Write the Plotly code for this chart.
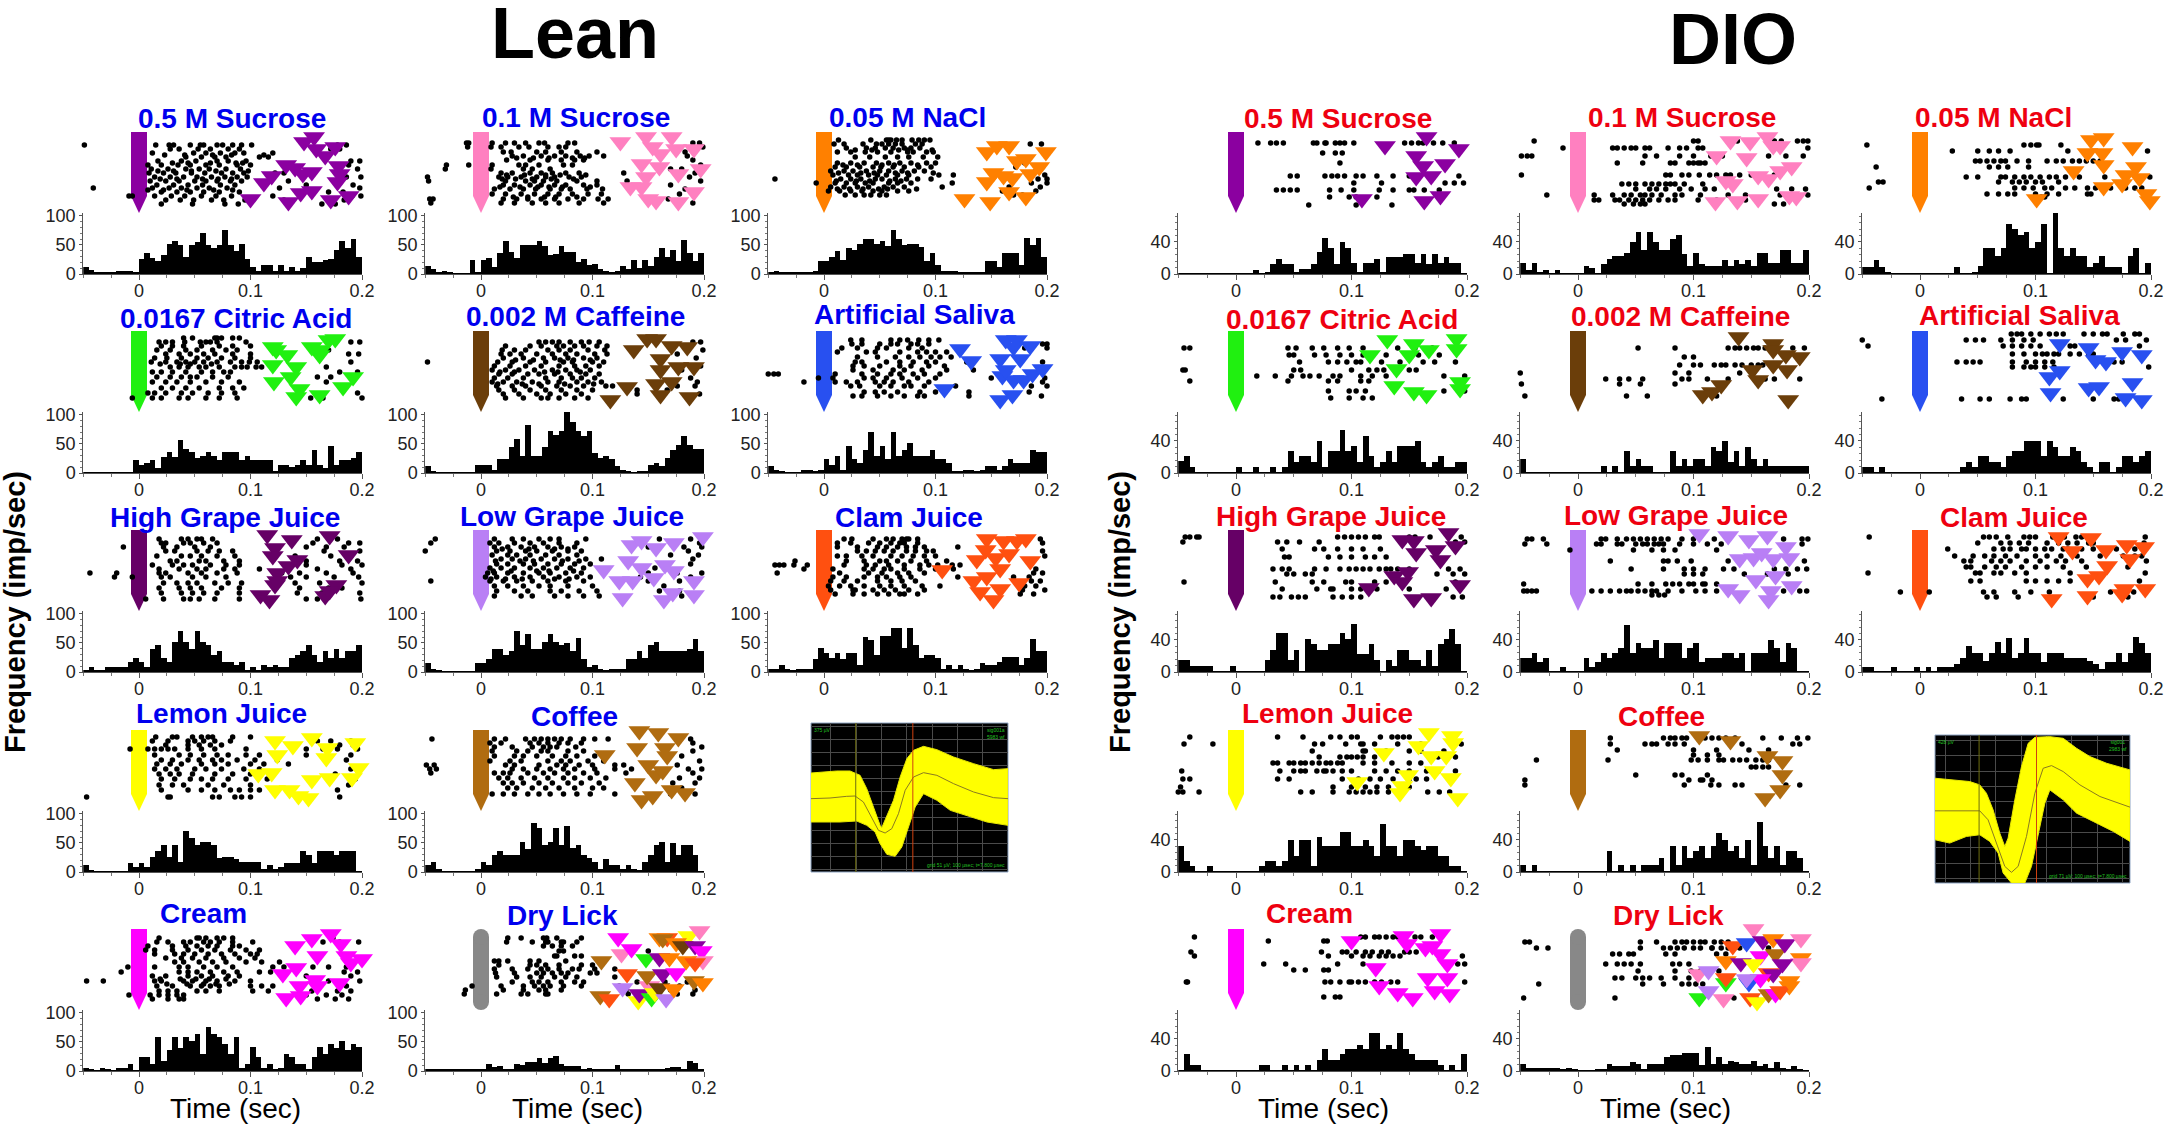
import plotly.graph_objects as go

W, H = 2167, 1127
FONT = "Liberation Sans"

# colours of the tastants
PURPLE, PINK, ORANGE = "#8B00A0", "#FF80C0", "#FF8000"
GREEN, BROWN, BLUE = "#20F010", "#6B3E0A", "#2850F0"
GRAPE, LAVENDER, CLAM = "#660066", "#B97FF5", "#FF5010"
YELLOW, COFFEE, MAGENTA, GREY = "#FFFF00", "#B06C10", "#FF00FF", "#888888"

TIME_BINS = [(-50 + 5 * i) / 1000 for i in range(50)]

# ---- Lean histograms (imp/sec)
L1_HIST = [12, 7, 3, 2, 2, 2, 5, 6, 6, 3,
           26, 36, 28, 22, 32, 52, 57, 50, 30, 50,
           55, 71, 50, 45, 50, 75, 50, 40, 52, 25,
           12, 6, 15, 15, 6, 15, 6, 12, 6, 10,
           30, 20, 20, 24, 25, 42, 56, 45, 60, 30]
L2_HIST = [14, 8, 3, 5, 3, 1, 1, 1, 24, 3,
           24, 28, 12, 37, 57, 38, 27, 50, 50, 50,
           57, 48, 33, 35, 48, 38, 38, 20, 26, 15,
           18, 8, 5, 3, 5, 14, 8, 24, 10, 24,
           14, 30, 45, 30, 42, 22, 58, 36, 22, 36]
L3_HIST = [3, 6, 3, 2, 2, 2, 2, 2, 5, 22,
           22, 30, 40, 24, 45, 42, 52, 60, 60, 52,
           56, 48, 75, 60, 50, 52, 52, 46, 22, 36,
           15, 6, 6, 6, 2, 2, 2, 2, 2, 22,
           22, 12, 36, 36, 36, 16, 62, 50, 62, 30]
L4_HIST = [1, 1, 1, 1, 1, 1, 1, 1, 1, 22,
           14, 18, 22, 8, 28, 36, 28, 57, 42, 36,
           26, 30, 36, 30, 22, 36, 36, 36, 22, 30,
           22, 22, 22, 22, 4, 14, 14, 10, 14, 22,
           14, 40, 14, 8, 46, 14, 22, 22, 26, 36]
L5_HIST = [12, 2, 1, 1, 1, 1, 1, 1, 1, 14,
           14, 14, 5, 24, 24, 44, 58, 30, 82, 30,
           30, 44, 72, 66, 72, 105, 88, 72, 64, 72,
           35, 26, 30, 24, 12, 6, 3, 1, 3, 4,
           14, 18, 12, 26, 40, 48, 64, 48, 42, 42]
L6_HIST = [12, 6, 2, 1, 1, 1, 6, 6, 2, 6,
           24, 14, 30, 6, 46, 24, 18, 40, 70, 30,
           46, 24, 70, 30, 40, 52, 30, 30, 30, 40,
           24, 24, 18, 2, 4, 6, 6, 2, 6, 12,
           12, 6, 12, 24, 18, 18, 18, 40, 36, 36]
L7_HIST = [3, 8, 3, 3, 8, 8, 8, 8, 18, 24,
           18, 8, 40, 46, 24, 18, 52, 70, 52, 40,
           70, 52, 46, 30, 36, 18, 18, 12, 18, 3,
           8, 3, 12, 8, 12, 8, 8, 24, 30, 36,
           46, 30, 18, 36, 24, 40, 24, 36, 36, 46]
L8_HIST = [16, 6, 3, 1, 1, 1, 1, 1, 1, 16,
           16, 22, 40, 40, 30, 36, 70, 46, 66, 40,
           40, 52, 66, 52, 46, 50, 36, 58, 22, 8,
           12, 6, 2, 6, 6, 6, 22, 22, 36, 24,
           46, 52, 36, 36, 36, 36, 36, 40, 56, 36]
L9_HIST = [6, 6, 12, 6, 3, 6, 6, 6, 22, 42,
           32, 24, 32, 22, 32, 32, 12, 60, 55, 30,
           62, 62, 76, 76, 42, 76, 46, 24, 30, 30,
           24, 6, 12, 6, 12, 6, 3, 6, 16, 12,
           12, 18, 26, 26, 26, 12, 24, 56, 36, 36]
L10_HIST = [12, 3, 1, 1, 1, 1, 1, 1, 16, 8,
            16, 8, 26, 36, 46, 26, 46, 18, 70, 58,
            46, 52, 52, 46, 24, 26, 26, 22, 18, 18,
            18, 18, 6, 12, 6, 8, 16, 16, 16, 36,
            30, 16, 36, 36, 36, 30, 36, 36, 36, 1]
L11_HIST = [12, 18, 6, 1, 1, 1, 1, 1, 1, 6,
            18, 12, 30, 36, 30, 30, 30, 52, 40, 85,
            76, 46, 52, 75, 46, 80, 42, 46, 30, 24,
            18, 6, 22, 12, 12, 6, 12, 6, 2, 18,
            30, 46, 52, 18, 50, 30, 46, 46, 30, 1]
L12_HIST = [6, 3, 1, 6, 3, 1, 6, 6, 12, 1,
            24, 24, 12, 58, 18, 36, 58, 40, 58, 52,
            64, 30, 75, 64, 58, 46, 30, 58, 6, 12,
            42, 24, 6, 12, 4, 6, 30, 24, 12, 12,
            3, 24, 42, 30, 46, 40, 52, 36, 46, 42]
L13_HIST = [2, 2, 2, 2, 2, 2, 3, 4, 2, 2,
            2, 12, 7, 9, 4, 2, 12, 10, 16, 16,
            22, 14, 22, 26, 12, 8, 9, 9, 4, 5,
            4, 3, 3, 3, 11, 3, 3, 3, 3, 2,
            2, 2, 2, 6, 7, 7, 3, 17, 14, 2]

# ---- DIO histograms (imp/sec)
D1_HIST = [1, 1, 1, 1, 1, 1, 1, 1, 1, 1,
           1, 1, 1, 5, 1, 3, 13, 19, 13, 13,
           2, 6, 6, 13, 28, 45, 32, 12, 40, 32,
           14, 2, 14, 14, 19, 3, 21, 21, 21, 25,
           25, 14, 25, 12, 25, 14, 21, 14, 14, 1]
D2_HIST = [14, 5, 14, 3, 5, 1, 5, 1, 1, 1,
           1, 10, 7, 1, 12, 19, 22, 22, 26, 40,
           52, 30, 52, 40, 30, 30, 44, 48, 25, 10,
           26, 12, 10, 10, 10, 17, 10, 17, 12, 17,
           10, 26, 26, 14, 14, 30, 30, 14, 14, 30]
D3_HIST = [9, 9, 17, 9, 3, 1, 1, 1, 1, 1,
           1, 1, 1, 1, 1, 1, 9, 1, 1, 2,
           10, 32, 32, 22, 32, 62, 56, 48, 52, 32,
           40, 62, 1, 76, 32, 22, 32, 22, 22, 9,
           14, 22, 9, 9, 9, 1, 22, 32, 1, 14]
D4_HIST = [15, 21, 7, 1, 1, 1, 1, 1, 1, 1,
           7, 1, 1, 7, 1, 1, 7, 1, 7, 27,
           14, 21, 21, 14, 40, 7, 28, 28, 54, 28,
           34, 14, 46, 21, 8, 14, 28, 14, 34, 34,
           34, 40, 14, 7, 14, 21, 7, 7, 14, 14]
D5_HIST = [18, 1, 1, 1, 1, 1, 1, 1, 1, 1,
           1, 1, 1, 1, 9, 1, 9, 1, 27, 9,
           18, 9, 9, 1, 1, 1, 27, 9, 18, 9,
           18, 18, 9, 32, 27, 40, 14, 27, 9, 32,
           18, 9, 18, 9, 9, 9, 9, 9, 9, 9]
D6_HIST = [7, 7, 1, 7, 1, 1, 1, 1, 1, 1,
           1, 1, 1, 1, 1, 1, 1, 7, 14, 7,
           21, 21, 14, 14, 7, 21, 28, 28, 40, 40,
           40, 21, 40, 32, 21, 21, 32, 28, 14, 7,
           1, 14, 14, 1, 7, 21, 21, 14, 21, 27]
D7_HIST = [15, 15, 8, 8, 8, 8, 1, 1, 1, 8,
           1, 1, 1, 1, 1, 15, 28, 48, 48, 15,
           28, 1, 41, 35, 28, 28, 35, 35, 48, 41,
           60, 22, 22, 35, 15, 1, 15, 8, 28, 28,
           15, 15, 8, 28, 8, 35, 41, 54, 35, 1]
D8_HIST = [18, 18, 24, 12, 18, 1, 1, 6, 1, 1,
           1, 18, 6, 12, 24, 18, 24, 30, 58, 24,
           36, 30, 30, 40, 18, 36, 36, 36, 18, 30,
           36, 12, 18, 18, 18, 24, 24, 18, 24, 1,
           24, 24, 24, 40, 30, 12, 36, 30, 1, 1]
D9_HIST = [6, 6, 1, 1, 1, 6, 1, 1, 1, 6,
           1, 6, 1, 6, 6, 6, 10, 18, 32, 24,
           24, 14, 24, 38, 24, 42, 18, 24, 42, 24,
           24, 12, 24, 24, 24, 18, 18, 18, 18, 14,
           10, 4, 12, 12, 24, 12, 24, 44, 36, 24]
D10_HIST = [32, 14, 7, 1, 1, 7, 1, 1, 1, 1,
            1, 1, 1, 1, 7, 14, 14, 7, 14, 40,
            20, 40, 40, 7, 44, 33, 33, 33, 50, 50,
            33, 33, 40, 33, 20, 60, 33, 33, 20, 40,
            40, 33, 27, 33, 33, 20, 20, 7, 7, 1]
D11_HIST = [9, 1, 9, 1, 1, 1, 1, 1, 1, 1,
            1, 1, 1, 1, 1, 26, 1, 9, 1, 9,
            1, 9, 9, 9, 18, 1, 33, 9, 33, 18,
            26, 33, 18, 33, 48, 40, 26, 33, 18, 40,
            9, 62, 33, 18, 33, 9, 26, 26, 18, 1]
D12_HIST = [1, 21, 7, 7, 1, 1, 1, 1, 1, 1,
            1, 1, 1, 1, 7, 7, 1, 1, 7, 1,
            7, 1, 7, 1, 14, 27, 14, 14, 21, 27,
            27, 33, 27, 47, 47, 27, 33, 27, 47, 27,
            21, 14, 14, 14, 14, 7, 1, 7, 1, 21]
D13_HIST = [9, 4, 4, 4, 4, 4, 4, 2, 4, 2,
            1, 1, 1, 2, 3, 9, 6, 6, 6, 11,
            9, 3, 9, 9, 9, 17, 20, 20, 22, 22,
            22, 8, 30, 9, 17, 9, 12, 11, 9, 9,
            12, 6, 9, 4, 11, 4, 2, 6, 2, 1]

# ---- rasters: one (row, spike times in ms) entry per trial
L1_DOTS = [(68, [-49, 15, 27, 31, 46, 55, 58, 70, 75, 84, 92, 101, 178, 186]),
           (64, [28, 36, 53, 64, 80, 90, 172, 180]),
           (60, [12, 49, 60, 73, 86, 94, 120]),
           (58, [23, 41, 66, 83, 112]),
           (56, [42, 56, 68, 78, 108, 116]),
           (52, [17, 38, 51, 70, 80, 96, 190, 198]),
           (50, [30, 44, 64, 87, 93]),
           (48, [8, 20, 35, 46, 60, 72, 88, 100, 188]),
           (44, [11, 26, 42, 54, 63, 78, 91, 178, 196]),
           (42, [17, 31, 47, 69, 98]),
           (40, [9, 22, 33, 47, 59, 74, 84, 94, 122, 130]),
           (36, [14, 28, 40, 52, 65, 77, 88, 97, 186, 199]),
           (34, [19, 34, 57, 71, 83]),
           (32, [10, 24, 36, 50, 60, 70, 82, 92, 134, 176]),
           (28, [16, 31, 44, 57, 73, 86, 150, 192]),
           (25, [-41, 12, 27, 38, 52, 63, 79, 126, 198]),
           (23, [8, 22, 43, 67, 84]),
           (21, [20, 34, 46, 58, 72, 90, 170, 183]),
           (17, [-9, -6, 14, 29, 41, 56, 69, 83, 120, 191, 199]),
           (13, [24, 37, 49, 65, 76, 95, 130, 184]),
           (9, [20, 48, 77, 89, 164, 176])]
L2_DOTS = [(70, [-13, -11, 10, 22, 30, 40, 52, 57, 78, 84, 190, 196]),
           (66, [-12, 9, 18, 34, 43, 60, 70, 76, 199]),
           (61, [20, 27, 50, 58, 72, 86, 104, 183]),
           (57, [28, 38, 54, 66, 76, 89, 97, 110, 185]),
           (55, [32, 47, 61, 82, 93]),
           (53, [23, 44, 60, 72, 84, 92, 190]),
           (48, [-31, -11, 10, 34, 40, 52, 74, 82, 197]),
           (44, [-32, 9, 38, 46, 62, 170, 180]),
           (40, [18, 28, 44, 54, 64, 76, 88, 128, 192]),
           (38, [23, 39, 58, 71, 94]),
           (36, [-48, 16, 24, 36, 50, 58, 66, 79, 90, 187]),
           (34, [19, 31, 46, 63, 83]),
           (32, [-47, 22, 40, 48, 56, 68, 86, 104, 131, 197]),
           (28, [20, 30, 44, 54, 66, 76, 92, 104, 170]),
           (26, [17, 35, 51, 61, 73, 98]),
           (24, [12, 26, 38, 49, 62, 72, 80, 95, 109, 183]),
           (19, [10, 22, 36, 48, 60, 70, 82, 96, 108, 178]),
           (16, [29, 42, 57, 67, 86]),
           (14, [-46, -43, 20, 32, 42, 54, 66, 78, 92, 105, 114, 168]),
           (10, [-45, 18, 30, 46, 58, 70, 88, 110, 176, 190])]
L3_DOTS = [(73, [13, 42, 56, 58, 60, 65, 70, 79, 85, 90, 95]),
           (69, [9, 18, 35, 47, 52, 58, 64, 70, 82, 88, 185, 195]),
           (65, [20, 38, 46, 55, 62, 72, 78, 86]),
           (63, [28, 43, 67, 75, 97]),
           (61, [12, 24, 37, 48, 60, 75, 80, 92, 98]),
           (56, [28, 41, 55, 66, 76, 89, 102]),
           (50, [12, 24, 36, 47, 58, 68, 78, 92, 100, 180]),
           (48, [17, 30, 52, 63, 84]),
           (46, [10, 20, 32, 44, 51, 62, 72, 85, 96, 172, 196]),
           (42, [6, 18, 26, 38, 50, 58, 70, 81, 90, 190]),
           (40, [13, 33, 45, 64, 75, 98]),
           (38, [8, 22, 30, 40, 48, 56, 66, 76, 103, 116, 183, 198]),
           (34, [-44, 15, 24, 33, 46, 52, 64, 74, 84, 96, 192, 200]),
           (32, [11, 29, 41, 59, 69]),
           (30, [-7, 10, 20, 28, 37, 44, 58, 66, 78, 115, 200, 186]),
           (26, [6, 18, 30, 40, 54, 62, 72, 106, 166, 194]),
           (24, [12, 23, 35, 49, 57, 83]),
           (22, [4, 14, 24, 34, 44, 52, 66, 76, 160, 190]),
           (18, [19, 28, 36, 42, 50, 56, 170, 178])]
L4_DOTS = [(74, [40, 48, 68, 70, 74, 84, 90]),
           (70, [18, 24, 30, 41, 55, 60, 64, 70, 96, 190, 198]),
           (66, [20, 30, 40, 56, 72, 84, 100]),
           (62, [16, 28, 42, 52, 66, 78, 88, 170]),
           (58, [24, 36, 46, 58, 68, 84, 100, 188, 197]),
           (54, [14, 25, 38, 52, 62, 74, 86, 100]),
           (50, [11, 24, 34, 42, 50, 58, 70, 82, 92, 99, 106, 190]),
           (48, [19, 37, 46, 65]),
           (45, [28, 36, 44, 54, 60, 72, 86, 92, 97, 105, 110, 168]),
           (40, [12, 20, 30, 42, 56, 66, 76, 82, 180, 196]),
           (35, [16, 28, 38, 46, 52, 66, 80, 160, 172]),
           (30, [12, 24, 34, 46, 60, 74, 90, 168]),
           (24, [20, 30, 42, 54, 72, 84, 94]),
           (19, [8, 14, 24, 38, 48, 62, 74, 86, 196]),
           (14, [-6, 12, 20, 36, 44, 60, 72, 88, 154, 165, 200])]
L5_DOTS = [(70, [52, 58, 64, 70, 80, 90, 97, 106, 190, 197]),
           (66, [22, 44, 54, 68, 74, 84, 92, 104, 113]),
           (62, [19, 30, 40, 60, 70, 80, 96, 111, 199]),
           (58, [18, 26, 36, 50, 64, 76, 86, 102, 113, 176]),
           (54, [20, 38, 56, 66, 78, 92, 104, 193]),
           (52, [31, 47, 71, 83, 98]),
           (50, [-48, 15, 28, 44, 58, 74, 82, 100, 110]),
           (46, [12, 26, 40, 54, 70, 84, 94, 106, 197]),
           (42, [10, 22, 34, 48, 64, 76, 86, 98, 180]),
           (40, [17, 30, 57, 69, 89]),
           (38, [16, 28, 42, 52, 66, 80, 94, 106]),
           (34, [12, 24, 38, 58, 72, 82, 90, 102, 188]),
           (30, [10, 20, 32, 46, 60, 70, 86, 96, 108, 194]),
           (28, [15, 37, 52, 75, 101]),
           (26, [14, 28, 40, 54, 68, 80, 92, 112, 118, 176, 192]),
           (22, [16, 30, 44, 58, 72, 86, 100, 140, 167]),
           (18, [20, 34, 50, 62, 76, 90, 140, 196]),
           (14, [22, 38, 54, 60, 70, 84, 96, 186])]
L6_DOTS = [(72, [24, 34, 60, 68, 75, 85, 94, 103]),
           (68, [25, 34, 50, 60, 66, 78, 84, 94, 196, 200]),
           (64, [16, 30, 48, 56, 76, 88, 180, 200]),
           (60, [12, 38, 46, 68, 84, 92, 100, 110]),
           (55, [30, 48, 64, 76, 86, 96, 104, 114]),
           (50, [28, 34, 56, 68, 80, 92, 100, 128, 196]),
           (46, [26, 36, 50, 68, 78, 94, 108]),
           (42, [26, 44, 62, 72, 88, 110, 134]),
           (38, [-50, -45, -41, 10, 34, 48, 60, 68, 80, 90, 104]),
           (34, [-5, 8, 36, 44, 56, 70, 84, 100, 150, 198]),
           (30, [-18, 10, 20, 30, 46, 54, 62, 76, 94, 180, 196]),
           (26, [24, 32, 50, 60, 72, 78, 90, 118, 186, 200]),
           (20, [36, 46, 54, 66, 86, 100, 130, 184]),
           (16, [26, 34, 48, 60, 72, 84, 90, 130, 195])]
L7_DOTS = [(72, [18, 38, 44, 52, 56, 66, 160, 178]),
           (68, [20, 24, 40, 46, 58, 70, 156, 188, 198]),
           (64, [-14, 22, 34, 50, 64, 150, 168, 184]),
           (60, [24, 32, 52, 62, 72, 84, 166, 198]),
           (55, [16, 38, 46, 56, 70, 86, 140, 172, 190]),
           (50, [28, 34, 54, 60, 76, 90, 150, 180, 196]),
           (46, [12, 30, 40, 48, 64, 78, 90, 150, 182, 200]),
           (42, [18, 36, 52, 60, 76, 86, 108, 160, 190]),
           (38, [-44, -20, 18, 24, 44, 56, 70, 88, 128, 144, 168, 192]),
           (34, [-22, -6, 20, 28, 48, 60, 78, 136, 150, 175, 197]),
           (28, [22, 34, 44, 52, 68, 80, 92, 140, 162, 200]),
           (23, [18, 36, 46, 56, 74, 90, 144, 170, 182]),
           (18, [20, 38, 48, 58, 70, 90, 142, 164, 198]),
           (12, [6, 22, 40, 46, 54, 68, 90, 150, 160, 199])]
L8_DOTS = [(72, [-41, 12, 28, 38, 52, 62, 70, 94, 160, 188]),
           (68, [-45, 8, 16, 30, 44, 56, 70, 86, 172, 196]),
           (64, [12, 24, 36, 48, 60, 72, 84, 150, 182, 198]),
           (62, [19, 43, 66, 78]),
           (60, [-50, 14, 26, 40, 50, 64, 78, 90, 186]),
           (56, [10, 24, 32, 44, 58, 70, 86, 170, 195]),
           (52, [18, 28, 40, 54, 66, 78, 94, 108, 190]),
           (50, [13, 35, 47, 73, 88]),
           (47, [14, 24, 38, 48, 60, 72, 84, 98, 188]),
           (43, [8, 18, 30, 44, 56, 68, 80, 92, 156]),
           (40, [11, 27, 50, 61, 83]),
           (38, [6, 12, 24, 38, 52, 62, 76, 90, 150, 176, 198]),
           (34, [4, 14, 30, 44, 56, 70, 86, 98, 143, 188]),
           (32, [9, 22, 37, 66, 79]),
           (30, [-45, 8, 20, 32, 46, 60, 76, 92, 150, 178]),
           (25, [12, 24, 38, 52, 62, 78, 100, 164]),
           (20, [14, 30, 42, 62, 72, 88, 104, 160, 178]),
           (15, [12, 36, 46, 66, 78, 92, 106, 172, 180])]
L9_DOTS = [(72, [18, 25, 44, 56, 62, 70, 74, 76, 84, 194]),
           (68, [12, 24, 40, 50, 60, 68, 72, 84, 196]),
           (64, [12, 30, 48, 56, 66, 74, 82, 90, 120]),
           (60, [30, 38, 46, 54, 62, 74, 82, 92, 98, 196]),
           (55, [12, 20, 34, 44, 60, 70, 80, 90, 100, 198]),
           (50, [-26, 20, 36, 50, 56, 66, 78, 92, 110, 186]),
           (46, [-44, -40, -36, -27, -15, 18, 38, 46, 58, 72, 86, 94, 102, 115, 122]),
           (42, [-18, 8, 36, 44, 54, 60, 72, 86, 100, 116, 190]),
           (38, [-42, 14, 40, 52, 66, 76, 90, 188, 196]),
           (34, [8, 20, 36, 48, 56, 68, 78, 120, 170, 184]),
           (30, [6, 18, 30, 48, 60, 70, 82, 186, 194]),
           (25, [4, 14, 24, 36, 50, 60, 72, 88, 104, 180, 190]),
           (21, [6, 26, 28, 44, 54, 64, 76, 90, 178, 198]),
           (17, [10, 26, 36, 48, 58, 68, 72, 84, 176, 188])]
L10_DOTS = [(74, [15, 30, 34, 48, 56, 62, 66, 84, 100]),
            (70, [12, 26, 44, 50, 58, 68, 82, 160, 172, 190]),
            (66, [24, 44, 54, 64, 74, 180, 192]),
            (62, [-8, 8, 14, 20, 26, 32, 44, 56, 68, 96, 150, 165, 178, 196]),
            (56, [14, 36, 46, 58, 70, 80, 96, 108, 150, 190]),
            (51, [20, 30, 44, 54, 66, 74, 88, 104, 124, 186]),
            (47, [16, 28, 38, 56, 68, 80, 100, 112, 134]),
            (42, [14, 24, 34, 50, 60, 74, 94, 108, 190]),
            (37, [18, 28, 36, 48, 68, 84, 100, 118, 176]),
            (32, [20, 32, 46, 56, 66, 80, 96, 115, 172, 194]),
            (26, [18, 30, 40, 62, 76, 100, 188]),
            (21, [20, 44, 56, 68, 82, 90, 100, 108, 178]),
            (14, [-47, 26, 28, 66, 72, 86, 92, 100, 180])]
L11_DOTS = [(72, [-44, 12, 22, 40, 48, 54, 60, 66, 72, 80, 92, 102, 114, 188]),
            (68, [8, 18, 44, 52, 60, 70, 78, 90, 190]),
            (64, [12, 28, 46, 56, 62, 68, 85, 198]),
            (60, [10, 32, 42, 54, 60, 78, 92, 190]),
            (55, [12, 30, 38, 50, 64, 76, 86, 102, 180]),
            (50, [8, 26, 36, 60, 72, 80, 96, 110, 196]),
            (46, [-49, -42, 22, 30, 52, 68, 76, 88, 100, 120, 128, 176]),
            (42, [-46, -40, 28, 38, 50, 62, 74, 84, 102, 120, 135, 186, 198]),
            (38, [-45, 12, 20, 26, 42, 56, 66, 78, 92, 104, 130, 190]),
            (33, [16, 24, 36, 48, 60, 74, 84, 98, 112, 178, 196]),
            (28, [20, 28, 38, 52, 64, 78, 90, 106, 172, 192]),
            (23, [24, 32, 46, 58, 70, 84, 100, 110, 180]),
            (17, [10, 20, 30, 42, 52, 62, 74, 86, 98, 120, 170, 192])]
L12_DOTS = [(72, [18, 52, 54, 60, 70, 76, 84, 174]),
            (68, [16, 26, 40, 46, 58, 64, 72, 84, 102, 165, 180, 197]),
            (64, [8, 30, 42, 52, 62, 70, 84, 90]),
            (60, [6, 14, 30, 44, 56, 68, 82, 96, 108]),
            (56, [14, 32, 40, 50, 62, 74, 86, 100, 106]),
            (52, [24, 38, 48, 60, 76, 90, 104]),
            (48, [32, 40, 54, 66, 78, 96, 110, 126]),
            (43, [-10, 14, 36, 44, 58, 70, 84, 120, 130, 156, 170, 186]),
            (38, [-16, 36, 44, 52, 64, 76, 88, 108, 118, 184, 196]),
            (34, [12, 24, 44, 56, 66, 80, 90, 150, 190]),
            (31, [19, 37, 51, 63, 78]),
            (29, [-47, -32, 14, 20, 40, 48, 60, 70, 86, 100, 170, 198]),
            (26, [25, 43, 58, 69, 81]),
            (24, [16, 30, 46, 56, 64, 72, 100, 110, 120, 186]),
            (19, [18, 26, 34, 52, 60, 72, 102, 116, 155, 178, 190]),
            (15, [-9, 10, 18, 26, 34, 40, 150, 168, 182]),
            (11, [12, 26, 36, 40, 160, 176, 188])]
L13_DOTS = [(72, [24, 36, 56, 59, 68, 90]),
            (68, [23, 46, 58, 60, 72, 74, 86]),
            (64, [56, 64, 72, 82]),
            (59, [70, 74, 150]),
            (54, [66, 68, 84, 90]),
            (49, [12, 16, 24, 44, 52, 76]),
            (45, [16, 44, 50, 58, 70, 90, 100]),
            (41, [12, 28, 42, 54, 60, 70, 82, 88, 102, 120]),
            (37, [13, 30, 50, 56, 64, 72, 78, 98, 104]),
            (33, [14, 32, 44, 54, 66, 76, 86, 120]),
            (28, [28, 46, 52, 60, 72, 84, 92, 140, 165, 185]),
            (24, [-8, 18, 38, 48, 56, 62, 74, 90, 124, 178, 198]),
            (20, [-14, 20, 38, 52, 58, 72, 130, 170, 192]),
            (16, [-15, 14, 36, 42, 58, 60, 132, 176, 190])]

D1_DOTS = [(70, [19, 30, 35, 41, 67, 70, 77, 78, 86, 90, 94, 102, 146, 152, 158, 162, 171, 179, 189]),
           (60, [75, 86, 92]),
           (50, [90]),
           (37, [47, 53, 77, 83, 88, 94, 104, 110, 122, 136, 150, 167, 193]),
           (30, [102, 126, 181, 189, 197]),
           (23, [35, 41, 47, 53, 81, 91, 102, 124, 136, 150, 154, 163, 176]),
           (16, [81, 98, 104, 122]),
           (8, [63, 104, 135])]
D2_DOTS = [(72, [-38, 100, 104, 138, 150, 170, 176, 190, 195, 199]),
           (65, [-13, 30, 34, 40, 46, 50, 58, 62, 78, 88, 94, 104, 108, 199]),
           (57, [-49, -44, -40, 58, 68, 88, 100, 115, 120, 125, 165, 180, 195]),
           (50, [34, 56, 80, 84, 96, 100, 104, 106, 110]),
           (38, [-49, 76, 80, 90, 96, 105, 114, 120, 128, 132, 140, 150, 154, 158, 170, 175]),
           (29, [38, 44, 50, 58, 64, 70, 76, 80, 84, 92, 108, 130]),
           (24, [50, 62, 68, 76, 88, 98, 110, 118, 172, 185, 197]),
           (18, [-27, 14, 30, 40, 46, 54, 58, 64, 72, 84, 90, 106, 130, 145, 175, 199]),
           (13, [14, 18, 32, 36, 44, 50, 56, 62, 70, 78, 84, 104, 120, 145]),
           (9, [40, 48, 54, 58, 170, 178])]
D3_DOTS = [(68, [-46, 90, 96, 101, 103, 122]),
           (62, [28, 50, 60, 68, 78, 128, 197]),
           (52, [48, 52, 58, 64, 70, 74, 84, 94, 110, 118, 124, 132, 138, 144, 150, 156]),
           (46, [-38, 60, 68, 76, 94]),
           (36, [40, 50, 70, 74, 82, 90, 96, 104, 112, 118, 126, 138, 160, 199]),
           (31, [-36, -32, 68, 80, 86, 92, 100, 106, 120]),
           (25, [-44, 82, 90, 98, 108, 114, 126, 134, 145, 152, 165, 178, 186, 192]),
           (19, [58, 68, 76, 82, 100, 110, 120, 145, 148]),
           (16, [105, 108])]
D4_DOTS = [(64, [-45, -40, 45, 52, 66, 76, 88, 98, 110, 140, 155, 170]),
           (57, [46, 50, 68, 78, 90, 100, 110, 130, 150, 158, 176]),
           (50, [55, 80, 88, 96, 104, 108, 126, 142, 162, 172, 190]),
           (42, [-46, -44, 50, 56, 100, 115, 122, 128, 140, 150, 156]),
           (36, [18, 34, 48, 58, 64, 72, 84, 90, 108, 118, 130, 180, 198]),
           (31, [-40, 45, 80, 88, 108, 115]),
           (21, [80, 98, 104, 112, 180, 198]),
           (14, [82, 98, 110, 118])]
D5_DOTS = [(64, [52, 84, 130, 136, 140, 146, 152, 156, 162, 186, 196]),
           (55, [92, 100]),
           (47, [88, 100, 106, 118, 124, 128, 136, 142, 150, 156, 160]),
           (39, [-50, 84, 96, 140]),
           (33, [24, 36, 44, 56, 90, 96, 112, 130, 156, 162, 170, 192]),
           (28, [-49, 36, 54, 84]),
           (16, [-46, 42, 60, 120])]
D6_DOTS = [(78, [79, 84, 88, 96, 104, 112, 118, 124, 142, 150, 158, 162, 176, 186, 190]),
           (72, [-50, 40, 48, 55, 70, 80, 90, 98, 170, 178, 196]),
           (66, [-45, 72, 80, 88, 96, 104, 120, 130, 134, 190]),
           (58, [80, 90, 100, 106, 110, 116, 120, 130, 138, 146, 150]),
           (50, [32, 40, 46, 52, 80, 92, 100, 108, 115, 160, 168, 175]),
           (45, [80, 90, 96, 100, 108, 116, 198]),
           (13, [-33, 36, 52, 60, 78, 88, 92, 124, 150, 168, 172])]
D7_DOTS = [(74, [-44, -40, -34, -32, 88, 94, 100, 106, 112, 120, 124, 150, 155, 168, 195]),
           (69, [-46, 36, 44, 55, 72, 190, 198]),
           (62, [40, 68, 76, 88, 100, 110, 125]),
           (54, [42, 46, 80, 90, 100, 112, 120, 130]),
           (42, [32, 40, 46, 68, 78, 90, 98, 104, 110, 116, 124, 130, 134, 140, 150, 184, 194]),
           (37, [44, 50, 60, 66, 174, 188, 198]),
           (29, [-45, 34, 66, 76, 95, 100, 120, 130, 190]),
           (22, [40, 70, 82, 84, 100, 108, 122, 150, 182]),
           (14, [32, 38, 48, 54, 60, 84, 92, 100, 108, 188, 196])]
D8_DOTS = [(72, [-44, -40, -30, 20, 24, 34, 42, 48, 54, 60, 66, 72, 78, 90, 100, 118, 130, 150, 178, 194, 199]),
           (67, [-46, -27, 16, 20, 34, 38, 50, 56, 60, 66, 70, 74, 88, 100, 112, 124, 194]),
           (61, [-7, 48, 64, 74, 84, 120]),
           (50, [28, 74, 78, 86, 98, 130, 140, 196]),
           (42, [46, 74, 92, 100, 110, 126, 135, 170, 180, 190, 198]),
           (37, [92, 100, 108, 144, 164, 182]),
           (27, [-47, 52, 64, 76, 82, 88, 96, 100, 108, 110, 120]),
           (20, [-47, -44, -40, -36, 12, 20, 28, 36, 42, 46, 52, 58, 64, 68, 78, 90, 102, 110, 120, 130, 178, 192, 198]),
           (16, [64, 70, 75])]
D9_DOTS = [(74, [-44, 55, 60, 66, 76, 90, 95, 100, 115, 125, 135, 140, 150, 195]),
           (68, [50, 70, 78, 86, 94, 110, 120, 128, 136, 146, 150, 194]),
           (62, [24, 64, 72, 78, 88, 92, 100, 108, 114, 124, 128, 140, 150, 170, 186]),
           (55, [30, 46, 56, 64, 74, 84, 100, 110, 122, 136, 156, 176, 186, 192]),
           (50, [38, 44, 62, 70, 78, 92, 104, 118, 126, 140, 196]),
           (44, [40, 44, 56, 66, 74, 88, 100, 110, 124, 144, 180]),
           (38, [-45, 48, 52, 64, 70, 82, 92, 130, 195]),
           (30, [44, 52, 92, 100, 110, 120, 130, 145, 190]),
           (19, [-17, 8, 55, 64, 82, 96, 112, 165, 185]),
           (14, [58, 66, 85, 150, 180])]
D10_DOTS = [(74, [-40, 36, 58, 82, 90, 100, 105, 125, 135, 140, 145, 150]),
            (67, [-45, -20, 68, 75, 95, 108, 110, 120, 140, 160, 195]),
            (60, [66, 110, 112, 130, 150, 160, 180]),
            (54, [72, 90, 96, 100, 105, 110, 120, 175, 190]),
            (48, [32, 36, 46, 50, 56, 60, 66, 72, 78, 82, 88, 92, 110, 120, 135, 150, 160]),
            (40, [-47, 38, 50, 56, 60, 70, 76, 78, 84, 92, 100, 120, 130, 140, 150, 165, 175, 190]),
            (32, [-46, -40, 36, 46, 92, 106, 116, 125, 136, 150, 156, 165]),
            (24, [-48, 84, 100, 112, 122, 132, 150]),
            (19, [-50, -46, -32, 56, 66, 84, 98, 104, 110, 116, 122, 132, 166, 176, 185])]
D11_DOTS = [(73, [28, 74, 80, 84, 90, 94, 110, 116, 122, 128, 136, 160, 176, 190, 199]),
            (67, [28, 58, 64, 68, 78, 84, 92, 142, 186, 192]),
            (61, [34, 100, 120, 148, 165]),
            (56, [100, 112, 122]),
            (51, [-36, 26, 98, 104, 112, 122, 126, 134, 140, 146, 154, 160, 165]),
            (44, [150, 154, 160, 165]),
            (36, [50, 84, 90, 112]),
            (31, [-46, 96, 106, 108, 116]),
            (26, [-46, 92, 115, 122, 136, 142, 180, 192])]
D12_DOTS = [(73, [-36, 108, 112, 120, 124, 130, 136, 140, 155, 160, 170]),
            (69, [28, 76, 79]),
            (58, [-39, 74, 92, 96, 104, 112, 118, 126, 132, 146, 150, 156]),
            (54, [-36, 80, 100, 110, 116, 124, 130, 136, 142, 196]),
            (46, [24, 43, 88, 110, 192, 198]),
            (40, [50, 60, 76, 80]),
            (28, [-43, -42, 77, 82, 90, 98, 100, 106, 112, 120, 126, 134, 140, 198]),
            (13, [76, 86, 90])]
D13_DOTS = [(68, [-46, -42, 54, 68, 84, 90, 94, 100, 106, 110, 118, 124, 130, 145]),
            (62, [-36, -26, 54, 74, 80, 86, 92, 100, 106, 116, 116, 124, 130, 140, 165]),
            (56, [30, 36, 44, 48, 76, 84, 120, 128]),
            (46, [24, 34, 40, 46, 54, 82, 88, 96]),
            (39, [52, 84, 98, 106, 112, 122]),
            (32, [32, 38, 50, 56, 62, 72, 84, 96, 104]),
            (26, [-34, 56, 74, 90, 96, 102, 108]),
            (12, [-47, 32, 125, 135, 154])]

# ---- triangles: lick onset times (ms) and rows
L1_TX = [100, 112, 119, 132, 140, 148, 157, 159, 167, 176, 155, 179, 178, 172, 188, 134, 145, 155, 180, 147]
L1_TY = [14, 30, 37, 48, 45, 71, 76, 64, 57, 66, 41, 47, 31, 13, 17, 11, 20, 22, 39, 39]
L2_TX = [125, 148, 171, 154, 175, 191, 144, 160, 177, 197, 148, 134, 150, 157, 177, 191, 144, 161]
L2_TY = [71, 76, 76, 66, 64, 64, 49, 46, 39, 44, 36, 26, 14, 12, 11, 21, 26, 59]
L3_TX = [126, 149, 181, 166, 169, 146, 152, 146, 155, 166, 173, 181, 185, 193, 199, 161]
L3_TY = [14, 11, 16, 21, 35, 31, 40, 61, 67, 67, 52, 54, 39, 46, 61, 37]
L4_TX = [120, 123, 133, 120, 141, 136, 121, 144, 141, 162, 183, 192, 162, 155, 170, 176, 163]
L4_TY = [65, 62, 57, 47, 45, 35, 30, 23, 15, 17, 25, 35, 57, 65, 72, 73, 62]
L5_TX = [137, 149, 157, 171, 185, 161, 191, 177, 161, 157, 171, 131, 116, 161, 187]
L5_TY = [62, 73, 73, 66, 65, 53, 45, 45, 42, 28, 30, 25, 12, 17, 15]
L6_TX = [122, 132, 108, 163, 173, 185, 158, 170, 176, 160, 170, 179, 158, 169, 187, 196, 163]
L6_TY = [63, 51, 23, 72, 72, 66, 53, 65, 53, 36, 32, 32, 12, 17, 38, 43, 42]
L7_TX = [109, 117, 122, 124, 115, 122, 120, 137, 171, 188, 142, 134, 124, 167, 177, 171]
L7_TY = [16, 11, 26, 38, 76, 63, 55, 71, 75, 56, 51, 45, 30, 15, 26, 20]
L8_TX = [110, 127, 124, 136, 135, 144, 132, 144, 157, 173, 165, 173, 155, 191, 191, 164, 172, 199]
L8_TY = [41, 13, 30, 30, 66, 70, 50, 43, 63, 68, 46, 40, 33, 16, 30, 11, 18, 74]
L9_TX = [106, 140, 152, 158, 175, 146, 161, 145, 137, 154, 166, 173, 181, 185, 146, 134, 158]
L9_TY = [41, 19, 11, 22, 28, 72, 70, 61, 51, 53, 57, 70, 72, 50, 34, 30, 42]
L10_TX = [107, 119, 122, 135, 143, 152, 155, 171, 191, 197, 168, 169, 122, 138, 155, 194, 124]
L10_TY = [37, 38, 21, 21, 15, 13, 31, 33, 33, 43, 53, 63, 70, 65, 73, 68, 56]
L11_TX = [111, 140, 142, 159, 177, 165, 157, 163, 150, 138, 144, 154, 171, 183, 167]
L11_TY = [56, 63, 80, 78, 73, 63, 36, 40, 46, 28, 11, 15, 21, 18, 55]
L12_TX = [129, 141, 144, 132, 145, 160, 180, 140, 155, 160, 172, 181, 186, 190, 200, 158]
L12_TY = [36, 42, 24, 12, 14, 24, 27, 64, 71, 54, 76, 66, 54, 47, 51, 30]
L13_TX = [108, 107, 115, 123, 126, 135, 148, 131, 127, 151, 149, 141, 142, 153, 156, 160, 166, 173, 163, 175, 160, 169, 167, 160, 163, 186, 196, 175, 181, 192, 198, 199, 184, 192, 191, 199]
L13_TY = [49, 14, 11, 72, 56, 61, 51, 36, 22, 24, 34, 9, 16, 12, 17, 22, 11, 21, 36, 37, 52, 52, 72, 72, 71, 74, 79, 67, 64, 64, 59, 49, 49, 47, 29, 27]
L13_TC = [COFFEE, COFFEE, CLAM, MAGENTA, PINK, MAGENTA, GREEN, CLAM, LAVENDER, PINK, COFFEE, YELLOW, PURPLE, GREEN, YELLOW, BROWN, LAVENDER, ORANGE, PURPLE, MAGENTA, PURPLE, ORANGE, CLAM, ORANGE, COFFEE, YELLOW, PINK, ORANGE, BROWN, PURPLE, MAGENTA, PINK, ORANGE, CLAM, COFFEE, ORANGE]

D1_TX = [129, 109, 165, 156, 162, 156, 169, 181, 193, 163, 177]
D1_TY = [67, 14, 76, 57, 47, 36, 37, 49, 64, 12, 17]
D2_TX = [120, 132, 146, 149, 164, 169, 175, 128, 134, 156, 165, 175, 185, 119, 138, 156, 183, 189]
D2_TY = [57, 72, 55, 71, 76, 67, 67, 32, 29, 37, 34, 42, 46, 11, 12, 14, 17, 16]
D3_TX = [101, 133, 145, 148, 159, 159, 158, 159, 175, 178, 184, 187, 190, 196, 199]
D3_TY = [14, 42, 60, 73, 75, 48, 60, 26, 29, 38, 66, 46, 35, 19, 12]
D4_TX = [116, 131, 154, 167, 191, 191, 150, 139, 137, 154, 165, 194, 194]
D4_TY = [57, 72, 68, 62, 73, 63, 57, 43, 26, 20, 17, 30, 23]
D5_TX = [139, 169, 169, 180, 192, 169, 181, 151, 156, 124, 116, 108, 182]
D5_TY = [75, 68, 62, 57, 55, 47, 42, 42, 32, 27, 20, 17, 12]
D6_TX = [121, 146, 152, 161, 175, 192, 121, 112, 113, 146, 155, 184, 178, 192]
D6_TY = [68, 64, 52, 50, 60, 57, 41, 35, 19, 24, 25, 29, 14, 12]
D7_TX = [115, 137, 144, 149, 144, 154, 156, 173, 177, 184, 190, 194, 154, 169]
D7_TY = [23, 35, 29, 39, 71, 70, 58, 61, 51, 78, 65, 26, 12, 13]
D8_TX = [105, 130, 140, 148, 164, 152, 159, 169, 180, 183, 154, 171, 185, 130, 140, 165, 167]
D8_TY = [77, 75, 52, 71, 75, 53, 58, 52, 64, 53, 31, 35, 25, 22, 16, 11, 20]
D9_TX = [120, 148, 132, 161, 179, 194, 182, 162, 155, 145, 145, 175, 114, 195, 177]
D9_TY = [74, 73, 60, 61, 66, 64, 52, 45, 35, 32, 15, 17, 12, 22, 22]
D10_TX = [105, 128, 158, 169, 182, 188, 167, 187, 172, 149, 186, 142, 144, 192]
D10_TY = [29, 58, 65, 55, 55, 68, 78, 75, 40, 36, 33, 18, 25, 13]
D11_TX = [105, 132, 164, 177, 177, 175, 162]
D11_TY = [75, 70, 55, 50, 36, 21, 13]
D12_TX = [100, 121, 145, 148, 164, 170, 177, 177, 183, 166, 183, 124, 140, 153, 172, 185]
D12_TY = [69, 42, 74, 66, 62, 64, 76, 56, 46, 32, 32, 24, 17, 12, 19, 16]
D13_TX = [105, 113, 104, 113, 128, 126, 128, 128, 134, 146, 141, 148, 149, 155, 158, 152, 152, 160, 169, 171, 179, 193, 193, 193, 177, 165, 169, 158, 146, 165, 171, 183, 175, 183]
D13_TY = [12, 19, 36, 39, 27, 11, 32, 49, 64, 67, 47, 27, 12, 8, 54, 46, 81, 69, 71, 56, 66, 71, 52, 47, 46, 37, 36, 31, 31, 16, 16, 24, 19, 29]
D13_TC = [GREEN, LAVENDER, PINK, LAVENDER, GREEN, PINK, CLAM, ORANGE, CLAM, BLUE, PURPLE, BLUE, CLAM, YELLOW, MAGENTA, YELLOW, PINK, PURPLE, ORANGE, COFFEE, PURPLE, PINK, ORANGE, PINK, PURPLE, CLAM, PURPLE, MAGENTA, LAVENDER, COFFEE, MAGENTA, ORANGE, CLAM, ORANGE]

# ---- spike waveforms (envelope and mean)
WL_UP_X = [93, 130, 170, 210, 240, 260, 280, 300, 305, 315, 340, 360, 380, 400, 430, 470, 520, 580, 640, 683]
WL_UP_Y = [218, 215, 212, 212, 225, 265, 320, 375, 382, 360, 300, 230, 175, 150, 138, 148, 170, 190, 208, 205]
WL_LO_X = [93, 130, 180, 230, 260, 285, 300, 320, 345, 365, 385, 405, 430, 470, 510, 560, 620, 683]
WL_LO_Y = [365, 365, 365, 362, 375, 395, 430, 462, 468, 440, 380, 320, 280, 300, 330, 345, 365, 375]
WL_M_X = [93, 150, 200, 225, 250, 275, 295, 315, 335, 355, 375, 400, 430, 470, 520, 580, 640, 683]
WL_M_Y = [295, 293, 288, 287, 305, 350, 390, 398, 385, 340, 270, 230, 217, 225, 250, 275, 292, 295]
WD_UP_X = [46, 100, 150, 180, 200, 220, 240, 255, 265, 285, 305, 325, 345, 390, 430, 470, 510, 560, 630]
WD_UP_Y = [205, 210, 215, 225, 250, 300, 370, 410, 385, 270, 170, 100, 82, 80, 85, 115, 140, 160, 180]
WD_LO_X = [46, 90, 140, 180, 210, 235, 250, 275, 315, 335, 355, 375, 390, 430, 470, 520, 580, 630]
WD_LO_Y = [390, 400, 380, 375, 395, 430, 490, 520, 520, 470, 380, 280, 240, 270, 310, 335, 365, 395]
WD_M_X = [46, 120, 180, 205, 230, 255, 275, 295, 320, 345, 370, 395, 430, 480, 540, 630]
WD_M_Y = [303, 303, 303, 330, 400, 470, 488, 470, 380, 250, 175, 167, 185, 225, 260, 292]

LEAN_ZEROS = [139, 481, 824]
DIO_ZEROS = [1236, 1578, 1920]
ROW_BASE = [274, 473, 672, 872, 1071]

# name, colour, column, row, title x, title y, hist, dots, tri x, tri y
LEAN = [("0.5 M Sucrose", PURPLE, 0, 0, 232, 118, L1_HIST, L1_DOTS, L1_TX, L1_TY),
        ("0.1 M Sucrose", PINK, 1, 0, 576, 117, L2_HIST, L2_DOTS, L2_TX, L2_TY),
        ("0.05 M NaCl", ORANGE, 2, 0, 907, 117, L3_HIST, L3_DOTS, L3_TX, L3_TY),
        ("0.0167 Citric Acid", GREEN, 0, 1, 236, 318, L4_HIST, L4_DOTS, L4_TX, L4_TY),
        ("0.002 M Caffeine", BROWN, 1, 1, 575, 316, L5_HIST, L5_DOTS, L5_TX, L5_TY),
        ("Artificial Saliva", BLUE, 2, 1, 914, 314, L6_HIST, L6_DOTS, L6_TX, L6_TY),
        ("High Grape Juice", GRAPE, 0, 2, 225, 517, L7_HIST, L7_DOTS, L7_TX, L7_TY),
        ("Low Grape Juice", LAVENDER, 1, 2, 572, 516, L8_HIST, L8_DOTS, L8_TX, L8_TY),
        ("Clam Juice", CLAM, 2, 2, 909, 517, L9_HIST, L9_DOTS, L9_TX, L9_TY),
        ("Lemon Juice", YELLOW, 0, 3, 221, 713, L10_HIST, L10_DOTS, L10_TX, L10_TY),
        ("Coffee", COFFEE, 1, 3, 574, 716, L11_HIST, L11_DOTS, L11_TX, L11_TY),
        ("Cream", MAGENTA, 0, 4, 203, 913, L12_HIST, L12_DOTS, L12_TX, L12_TY),
        ("Dry Lick", GREY, 1, 4, 562, 915, L13_HIST, L13_DOTS, L13_TX, L13_TY)]
DIO = [("0.5 M Sucrose", PURPLE, 0, 0, 1338, 118, D1_HIST, D1_DOTS, D1_TX, D1_TY),
       ("0.1 M Sucrose", PINK, 1, 0, 1682, 117, D2_HIST, D2_DOTS, D2_TX, D2_TY),
       ("0.05 M NaCl", ORANGE, 2, 0, 1993, 117, D3_HIST, D3_DOTS, D3_TX, D3_TY),
       ("0.0167 Citric Acid", GREEN, 0, 1, 1342, 319, D4_HIST, D4_DOTS, D4_TX, D4_TY),
       ("0.002 M Caffeine", BROWN, 1, 1, 1680, 316, D5_HIST, D5_DOTS, D5_TX, D5_TY),
       ("Artificial Saliva", BLUE, 2, 1, 2019, 315, D6_HIST, D6_DOTS, D6_TX, D6_TY),
       ("High Grape Juice", GRAPE, 0, 2, 1331, 516, D7_HIST, D7_DOTS, D7_TX, D7_TY),
       ("Low Grape Juice", LAVENDER, 1, 2, 1676, 515, D8_HIST, D8_DOTS, D8_TX, D8_TY),
       ("Clam Juice", CLAM, 2, 2, 2014, 517, D9_HIST, D9_DOTS, D9_TX, D9_TY),
       ("Lemon Juice", YELLOW, 0, 3, 1327, 713, D10_HIST, D10_DOTS, D10_TX, D10_TY),
       ("Coffee", COFFEE, 1, 3, 1661, 716, D11_HIST, D11_DOTS, D11_TX, D11_TY),
       ("Cream", MAGENTA, 0, 4, 1309, 913, D12_HIST, D12_DOTS, D12_TX, D12_TY),
       ("Dry Lick", GREY, 1, 4, 1668, 915, D13_HIST, D13_DOTS, D13_TX, D13_TY)]

fig = go.Figure()
layout = {"annotations": [], "shapes": []}
axis_no = 0


def next_axes(x0, x1, y_top, y_bottom):
    """New x/y axis pair whose plot area is given in page pixels."""
    global axis_no
    axis_no += 1
    s = "" if axis_no == 1 else str(axis_no)
    x_opts = dict(domain=[x0 / W, x1 / W], anchor="y" + s)
    y_opts = dict(domain=[1 - y_bottom / H, 1 - y_top / H], anchor="x" + s)
    return s, x_opts, y_opts


# all page text sits on a hidden axis pair that covers the page in pixels
PAGE, page_x, page_y = next_axes(0, W, 0, H)
page_x.update(range=[0, W], visible=False)
page_y.update(range=[H, 0], visible=False)
layout["xaxis" + PAGE], layout["yaxis" + PAGE] = page_x, page_y
fig.add_trace(go.Scatter(x=[None], y=[None], xaxis="x" + PAGE, yaxis="y" + PAGE, showlegend=False))


def page_text(text, px, py, size, color, angle=0):
    layout["annotations"].append(dict(text=text, x=px, y=py, xref="x" + PAGE, yref="y" + PAGE,
                                      showarrow=False, textangle=angle, xanchor="center", yanchor="middle",
                                      font=dict(family=FONT, size=size, color=color)))


def add_panel(spec, zeros, px_per_ms, y_max, y_ticks):
    name, color, col, row, tx, ty, hist, dots, tri_x, tri_y = spec
    x0 = zeros[col]
    base = ROW_BASE[row]
    left, right = x0 - 50 * px_per_ms, x0 + 200 * px_per_ms

    # histogram
    s, xa, ya = next_axes(left, right, base - 61, base)
    xa.update(range=[-0.05, 0.2], tickvals=[0, 0.1, 0.2], ticktext=["0", "0.1", "0.2"],
              showgrid=False, zeroline=False, showline=True, linecolor="#555", linewidth=1,
              ticks="outside", ticklen=5, tickcolor="#555", ticklabelstandoff=-5,
              minor=dict(tick0=0, dtick=0.025, ticks="outside", ticklen=3, tickcolor="#777"),
              tickfont=dict(family=FONT, size=18, color="#222"))
    ya.update(range=[0, y_max], tickvals=y_ticks, showgrid=False, zeroline=False,
              showline=True, linecolor="#555", linewidth=1,
              ticks="outside", ticklen=3, tickcolor="#555",
              minor=dict(tick0=0, dtick=y_ticks[1] / 5, ticks="outside", ticklen=2, tickcolor="#777"),
              tickfont=dict(family=FONT, size=18, color="#222"))
    layout["xaxis" + s], layout["yaxis" + s] = xa, ya
    fig.add_trace(go.Bar(x=TIME_BINS, y=hist, width=0.005, offset=0, xaxis="x" + s, yaxis="y" + s,
                         marker=dict(color="black", line_width=0), showlegend=False))

    # raster above it, same time scale in ms
    s, xa, ya = next_axes(left, right, base - 142, base - 61)
    xa.update(range=[-50, 200], visible=False)
    ya.update(range=[0, 81], visible=False)
    layout["xaxis" + s], layout["yaxis" + s] = xa, ya
    refs = dict(xaxis="x" + s, yaxis="y" + s, showlegend=False, cliponaxis=False)

    half = 8 / px_per_ms
    if color == GREY:
        fig.add_trace(go.Scatter(x=[0, 0], y=[8, 73], mode="lines+markers", line=dict(color=GREY, width=16),
                                 marker=dict(color=GREY, size=16), **refs))
    else:
        fig.add_trace(go.Scatter(x=[-half, half, half, 0, -half, -half], y=[81, 81, 17, 0, 17, 81],
                                 mode="lines", fill="toself", fillcolor=color, line=dict(color=color, width=0),
                                 **refs))
    dx = [t for _, times in dots for t in times]
    dy = [r for r, times in dots for _ in times]
    fig.add_trace(go.Scatter(x=dx, y=dy, mode="markers", marker=dict(color="black", size=5.5), **refs))
    tri_color = color
    if color == GREY:
        tri_color = L13_TC if zeros is LEAN_ZEROS else D13_TC
    fig.add_trace(go.Scatter(x=tri_x, y=tri_y, mode="markers",
                             marker=dict(symbol="triangle-down", size=19, color=tri_color, line_width=0), **refs))

    page_text("<b>%s</b>" % name, tx, ty, 28, "#0000EE" if zeros is LEAN_ZEROS else "#EE0010")


def add_wave(box, x_range, y_range, up_x, up_y, lo_x, lo_y, m_x, m_y, v_lines, labels, gx, gy):
    s, xa, ya = next_axes(*box)
    for ax, rng, step in ((xa, x_range, gx), (ya, y_range, gy)):
        ax.update(range=rng, showticklabels=False, ticks="", zeroline=False, showline=False,
                  showgrid=True, gridcolor="#4a4a4a", gridwidth=1, dtick=step)
    layout["xaxis" + s], layout["yaxis" + s] = xa, ya
    refs = dict(xaxis="x" + s, yaxis="y" + s, showlegend=False)
    layout["shapes"].append(dict(type="rect", xref="x%s domain" % s, yref="y%s domain" % s, x0=0, x1=1, y0=0, y1=1,
                                 fillcolor="black", line=dict(color="#8fa6c4", width=1), layer="below"))
    fig.add_trace(go.Scatter(x=up_x + lo_x[::-1], y=up_y + lo_y[::-1], mode="lines", fill="toself",
                             fillcolor="#FFFF00", line=dict(color="#E8E800", width=1), **refs))
    fig.add_trace(go.Scatter(x=m_x, y=m_y, mode="lines", line=dict(color="#8A7A20", width=1), **refs))
    for vx, vc in v_lines:
        fig.add_trace(go.Scatter(x=[vx, vx], y=y_range, mode="lines", line=dict(color=vc, width=1), **refs))
    corners = [(0.005, 0.985, "left", "top"), (0.995, 0.985, "right", "top"), (0.995, 0.012, "right", "bottom")]
    for (cx, cy, xan, yan), label in zip(corners, labels):
        layout["annotations"].append(dict(text=label, x=cx, y=cy, xref="x%s domain" % s, yref="y%s domain" % s,
                                          showarrow=False, xanchor=xan, yanchor=yan,
                                          font=dict(family=FONT, size=5, color="#20C020")))


for spec in LEAN:
    add_panel(spec, LEAN_ZEROS, 1.115, 105, [0, 50, 100])
for spec in DIO:
    add_panel(spec, DIO_ZEROS, 1.155, 76, [0, 40])

add_wave((811, 1008, 723, 872), [93, 683], [515, 68], WL_UP_X, WL_UP_Y, WL_LO_X, WL_LO_Y, WL_M_X, WL_M_Y,
         [(227, "#6E6E10"), (398, "#D04010")], ["375 µV", "sig001a<br>5983 wf", "grid 51 µV; 100 µsec; t=7.800 µsec"], 76, 39)
add_wave((1935, 2130, 735, 883), [46, 630], [520, 75], WD_UP_X, WD_UP_Y, WD_LO_X, WD_LO_Y, WD_M_X, WD_M_Y,
         [(178, "#6E6E10"), (350, "#D04010")], ["428 µV", "sig001<br>2983 wf", "grid 71 µV; 100 µsec; t=7.800 µsec"], 76, 46)

# page level headings and shared axis titles
page_text("<b>Lean</b>", 575, 33, 72, "black")
page_text("<b>DIO</b>", 1733, 39, 72, "black")
page_text("<b>Frequency (imp/sec)</b>", 15, 612, 29, "black", -90)
page_text("<b>Frequency (imp/sec)</b>", 1120, 612, 29, "black", -90)
for time_x in (235, 577, 1323, 1665):
    page_text("Time (sec)", time_x, 1108, 28, "black")

# autoexpand off: tick labels near the edge must not shrink the plot area
fig.update_layout(width=W, height=H, margin=dict(l=0, r=0, t=0, b=0, autoexpand=False), paper_bgcolor="white",
                  plot_bgcolor="rgba(0,0,0,0)", bargap=0, showlegend=False, **layout)

# the page's default 8px body margin would push the chart off the window
fig.write_html("out.html", config={"displayModeBar": False},
               post_script="document.body.style.margin='0';document.documentElement.style.overflow='hidden';")
